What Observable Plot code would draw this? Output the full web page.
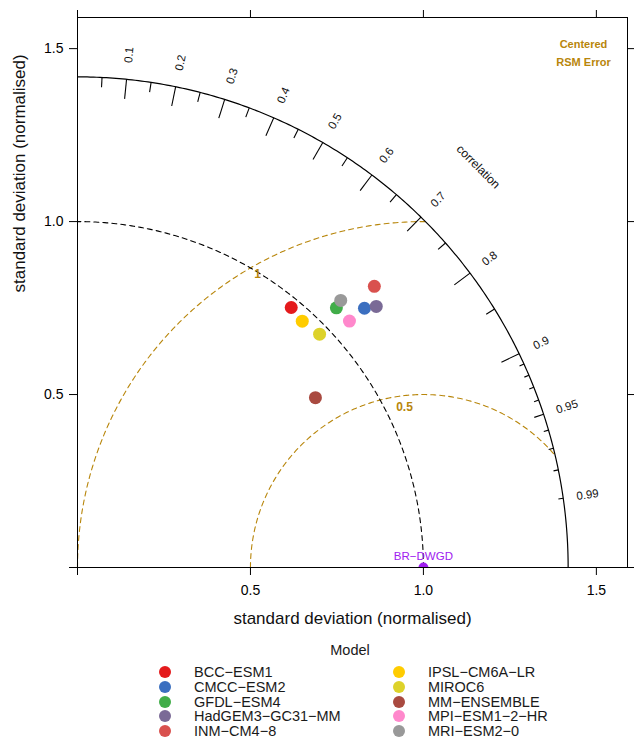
<!DOCTYPE html>
<html><head><meta charset="utf-8">
<script src="https://cdn.jsdelivr.net/npm/d3@7"></script>
<script src="https://cdn.jsdelivr.net/npm/@observablehq/plot@0.6"></script>
<style>
body{margin:0;background:#fff;font-family:"Liberation Sans",Arial,Helvetica,sans-serif;}
#wrap{position:relative;width:634px;height:740px;overflow:hidden;}
#wrap svg{position:absolute;left:0;top:0;}
.lg{position:absolute;font-size:14.5px;color:#1a1a1a;white-space:nowrap;line-height:1;}
.dot{position:absolute;width:12px;height:12px;border-radius:50%;}
</style></head><body><div id="wrap"></div>
<script>
// ---- data ----
const models = ["BCC−ESM1","CMCC−ESM2","GFDL−ESM4","HadGEM3−GC31−MM","INM−CM4−8","IPSL−CM6A−LR","MIROC6","MM−ENSEMBLE","MPI−ESM1−2−HR","MRI−ESM2−0"];
const sdNorm = [0.973, 1.118, 1.060, 1.147, 1.182, 0.964, 0.972, 0.845, 1.061, 1.084];
const corr   = [0.635, 0.742, 0.706, 0.753, 0.726, 0.674, 0.720, 0.814, 0.741, 0.702];
const colors = ["#E41A1C","#3B6FC0","#41AD49","#7A6A96","#D9514E","#FFCC00","#DDD22A","#A94A40","#FF88CC","#999999"];
const refName = "BR−DWGD";
const refSd = 1.0;
const axisTicks = [0, 0.5, 1, 1.5];
const corrMajor = [0.1,0.2,0.3,0.4,0.5,0.6,0.7,0.8,0.9];
const corrMed = [0.05,0.15,0.25,0.35,0.45,0.55,0.65,0.75,0.85,0.95];
const corrSmall = [0.91,0.92,0.93,0.94,0.96,0.97,0.98,0.99];
const corrLabels = [0.1,0.2,0.3,0.4,0.5,0.6,0.7,0.8,0.9,0.95,0.99];
const rmsArcs = [0.5, 1];
const rmsLabelAngle = [96.7, 119.5];   // degrees around reference point
const rmsLabelScale = [0.936, 0.973];
const maxsd = 1.2 * d3.max(sdNorm);

// ---- derived geometry ----
const pts = models.map((m,i)=>({model:m, x: sdNorm[i]*corr[i], y: sdNorm[i]*Math.sin(Math.acos(corr[i]))}));
function arc(cx, r, a0, a1, n=240){
  return d3.range(n+1).map(i=>{const a=a0+(a1-a0)*i/n; return {x:cx+r*Math.cos(a), y:r*Math.sin(a)};});
}
const outerArc = arc(0, maxsd, 0, Math.PI/2);
const refArc = arc(0, refSd, 0, Math.PI/2);
const rmsLines = rmsArcs.map(r=>{
  const xi = (maxsd*maxsd - r*r + refSd*refSd)/(2*refSd);
  const yi = Math.sqrt(Math.max(0, maxsd*maxsd - xi*xi));
  const aEnd = Math.atan2(yi, xi-refSd);
  return arc(refSd, r, Math.PI, aEnd).map(p=>({...p, rms:r}));
});
const tickSegs = [
  ...corrMajor.map(c=>({c,k:0.96})),
  ...corrMed.map(c=>({c,k:0.98})),
  ...corrSmall.map(c=>({c,k:0.99}))
];
const sinA = c=>Math.sin(Math.acos(c));
const corrLab = corrLabels.map(c=>({c, x:1.05*maxsd*c, y:1.05*maxsd*sinA(c), rot:-Math.acos(c)*180/Math.PI}));
const rmsLab = rmsArcs.map((r,i)=>{const a=rmsLabelAngle[i]*Math.PI/180; const rr=r*rmsLabelScale[i]; return {t:String(r), x:refSd+rr*Math.cos(a), y:rr*Math.sin(a)};});

const gold = "#B8860B";
const fmt = d => d===0 ? "" : d.toFixed(1);

const chart = Plot.plot({
  width:634, height:640,
  marginLeft:77, marginRight:7, marginTop:17, marginBottom:73,
  x:{domain:[0,1.59]}, y:{domain:[0,1.59]},
  color:{domain:models, range:colors},
  style:{fontFamily:'"Liberation Sans",Arial,Helvetica,sans-serif', fontSize:"14px", color:"black", background:"white"},
  marks:[
    Plot.line(rmsLines[0], {x:"x", y:"y", stroke:gold, strokeWidth:1.1, strokeDasharray:"5,4"}),
    Plot.line(rmsLines[1], {x:"x", y:"y", stroke:gold, strokeWidth:1.1, strokeDasharray:"5,4"}),
    Plot.line(refArc, {x:"x", y:"y", stroke:"black", strokeWidth:1.1, strokeDasharray:"5,4"}),
    Plot.line(outerArc, {x:"x", y:"y", stroke:"black", strokeWidth:1.2}),
    Plot.link(tickSegs, {x1:d=>d.c*maxsd, y1:d=>sinA(d.c)*maxsd, x2:d=>d.c*maxsd*d.k, y2:d=>sinA(d.c)*maxsd*d.k, stroke:"black", strokeWidth:1.1}),
    Plot.text(corrLab, {x:"x", y:"y", text:d=>String(d.c), rotate:"rot", fontSize:11.5, fill:"#111"}),
    Plot.text(["correlation"], {x:1.155*maxsd*Math.SQRT1_2, y:1.155*maxsd*Math.SQRT1_2, text:d=>d, rotate:45, fontSize:12, fill:"#111"}),
    Plot.text(rmsLab, {x:"x", y:"y", text:"t", fill:gold, fontSize:12, fontWeight:"bold"}),
    Plot.text(["Centered"], {text:d=>d, frameAnchor:"top-right", dx:-44, dy:27, textAnchor:"middle", lineAnchor:"middle", fill:gold, fontSize:11, fontWeight:"bold"}),
    Plot.text(["RSM Error"], {text:d=>d, frameAnchor:"top-right", dx:-44, dy:45, textAnchor:"middle", lineAnchor:"middle", fill:gold, fontSize:11, fontWeight:"bold"}),
    Plot.dot(pts, {x:"x", y:"y", fill:"model", r:6.5}),
    Plot.dot([refSd], {x:d=>d, y:0, fill:"#A020F0", r:5, clip:"frame"}),
    Plot.text([refName], {x:refSd, y:0, text:d=>d, dy:-11, fill:"#A020F0", fontSize:11.5}),
    Plot.frame({stroke:"black", strokeWidth:1}),
    Plot.axisX({anchor:"bottom", ticks:axisTicks, tickSize:8, tickPadding:10, tickFormat:fmt, label:null, fontSize:14}),
    Plot.axisX({anchor:"top", ticks:axisTicks, tickSize:8, tickFormat:()=>"", label:null}),
    Plot.axisY({anchor:"left", ticks:axisTicks, tickSize:8, tickPadding:6, tickFormat:fmt, label:null, fontSize:14}),
    Plot.axisY({anchor:"right", ticks:axisTicks, tickSize:8, tickFormat:()=>"", label:null}),
    Plot.text(["standard deviation (normalised)"], {text:d=>d, frameAnchor:"bottom", dy:51, lineAnchor:"middle", fontSize:17, fill:"#111"}),
    Plot.text(["standard deviation (normalised)"], {text:d=>d, frameAnchor:"left", dx:-58, rotate:-90, lineAnchor:"middle", fontSize:17, fill:"#111"})
  ]
});
const wrap = document.getElementById("wrap");
wrap.appendChild(chart);

// ---- legend ----
const title = document.createElement("div");
title.className = "lg"; title.textContent = "Model";
title.style.left = "0px"; title.style.width = "700px"; title.style.textAlign = "center";
title.style.top = (650-7)+"px";
wrap.appendChild(title);
const rowY = [671.5, 686.5, 701.5, 716, 730.5];
models.forEach((m,i)=>{
  const col = Math.floor(i/5), row = i%5;
  const cx = col===0 ? 165 : 399;
  const tx = col===0 ? 194 : 428;
  const d = document.createElement("div");
  d.className = "dot"; d.style.background = colors[i];
  d.style.left = (cx-6)+"px"; d.style.top = (rowY[row]-6)+"px";
  wrap.appendChild(d);
  const t = document.createElement("div");
  t.className = "lg"; t.textContent = m;
  t.style.left = tx+"px"; t.style.top = (rowY[row]-7)+"px";
  wrap.appendChild(t);
});
</script></body></html>
